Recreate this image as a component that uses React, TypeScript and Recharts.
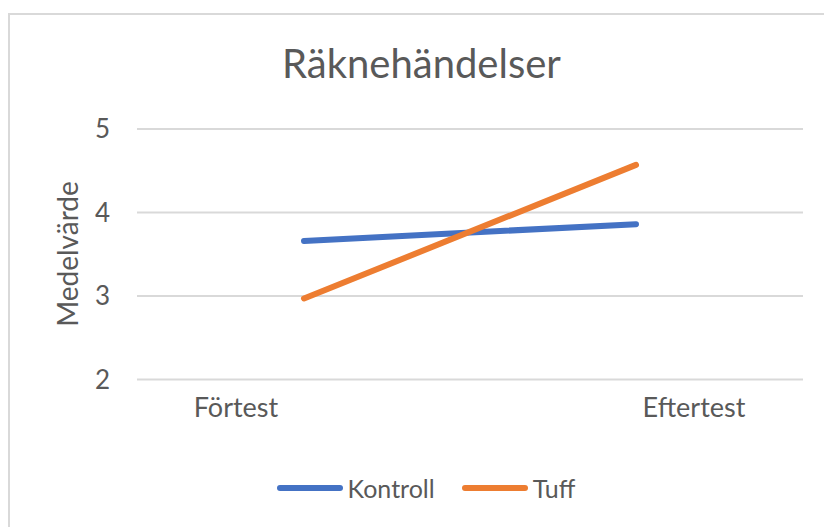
import React from 'react';
import { LineChart, Line, XAxis, YAxis, CartesianGrid, Legend, Label } from 'recharts';

const categories = ['Förtest', 'Eftertest'];
const kontroll = [3.66, 3.86];
const tuff = [2.97, 4.57];
const yTicks = [2, 3, 4, 5];
const title = 'Räknehändelser';
const yAxisTitle = 'Medelvärde';

const data = categories.map((c, i) => ({ test: c, Kontroll: kontroll[i], Tuff: tuff[i] }));

const FONT = 'Lato, "Open Sans", sans-serif';
const TEXT = '#595959';
const GRID = '#D9D9D9';
const BLUE = '#4472C4';
const ORANGE = '#ED7D31';
const X_LABEL_SHIFT = [-68, 58];

const XTick = (props: any) => {
  const { x, y, payload } = props;
  const i = categories.indexOf(payload.value);
  return (
    <text x={x + (X_LABEL_SHIFT[i] ?? 0)} y={y + 37} textAnchor="middle" fill={TEXT} fontFamily={FONT} fontSize={27}>
      {payload.value}
    </text>
  );
};

const renderLegend = (props: any) => {
  const { payload } = props;
  return (
    <div style={{ display: 'flex', justifyContent: 'center', alignItems: 'center', fontFamily: FONT }}>
      {(payload || []).map((p: any, i: number) => (
        <div key={p.value} style={{ display: 'flex', alignItems: 'center', marginLeft: i === 0 ? 0 : 27 }}>
          <svg width={66} height={10} style={{ display: 'block' }}>
            <line x1={3} y1={5} x2={63} y2={5} stroke={p.color} strokeWidth={6} strokeLinecap="round" />
          </svg>
          <span style={{ marginLeft: 5, fontSize: 25, color: TEXT, lineHeight: '30px' }}>{p.value}</span>
        </div>
      ))}
    </div>
  );
};

export default function App() {
  return (
    <div style={{ position: 'fixed', left: 0, top: 0, width: 824, height: 527, overflow: 'hidden', background: '#fff' }}>
      <div style={{ position: 'absolute', left: 8, top: 13, width: 900, height: 600, border: `2px solid ${GRID}`, boxSizing: 'border-box' }} />
      <div style={{ position: 'absolute', left: 0, top: 0 }}>
        <LineChart width={824} height={527} data={data} margin={{ top: 129, right: 21, bottom: 97.5, left: 77 }}>
          <CartesianGrid vertical={false} stroke={GRID} strokeWidth={2} />
          <XAxis
            dataKey="test"
            axisLine={false}
            tickLine={false}
            tickSize={0}
            tickMargin={0}
            height={50}
            padding={{ left: 167, right: 167 }}
            tick={<XTick />}
            interval={0}
          />
          <YAxis
            domain={[2, 5]}
            ticks={yTicks}
            axisLine={false}
            tickLine={false}
            tickSize={0}
            tickMargin={27}
            width={60}
            tick={{ fill: TEXT, fontSize: 26, fontFamily: FONT }}
          >
            <Label
              content={() => (
                <text x={78} y={254} transform="rotate(-90, 78, 254)" textAnchor="middle" fill={TEXT} fontFamily={FONT} fontSize={28}>
                  {yAxisTitle}
                </text>
              )}
            />
          </YAxis>
          <Line dataKey="Kontroll" name="Kontroll" stroke={BLUE} strokeWidth={6} strokeLinecap="round" dot={false} activeDot={false} isAnimationActive={false} />
          <Line dataKey="Tuff" name="Tuff" stroke={ORANGE} strokeWidth={6} strokeLinecap="round" dot={false} activeDot={false} isAnimationActive={false} />
          <Legend
            layout="horizontal"
            verticalAlign="middle"
            align="center"
            content={renderLegend}
            wrapperStyle={{ position: 'absolute', left: 0, top: 473, width: 852, height: 30 }}
          />
        </LineChart>
      </div>
      <svg width={824} height={527} style={{ position: 'absolute', left: 0, top: 0, pointerEvents: 'none' }}>
        <text x={421.5} y={78} textAnchor="middle" fill={TEXT} fontFamily={FONT} fontSize={40}>
          {title}
        </text>
      </svg>
    </div>
  );
}
